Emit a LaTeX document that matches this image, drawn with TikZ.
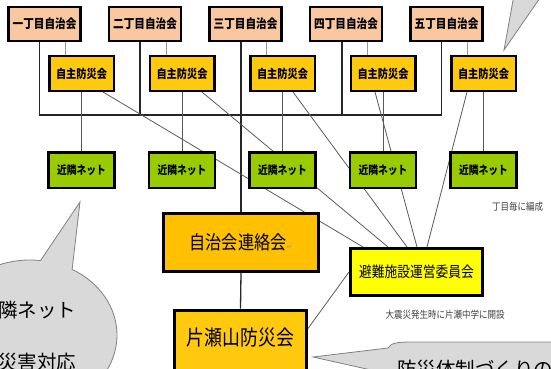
\documentclass[tikz,border=0pt]{standalone}
\usepackage{fontspec}
\setmainfont{Noto Sans CJK JP}
\newfontfamily\boxfont[FakeStretch=0.85]{Noto Sans CJK JP}
\newfontfamily\markfont{DejaVu Sans}
\usetikzlibrary{backgrounds,positioning,shapes,shapes.callouts}

\definecolor{chocolor}{HTML}{F9C8A0}
\definecolor{boucolor}{HTML}{FFC90E}
\definecolor{netcolor}{HTML}{99CC00}
\definecolor{renrakucolor}{HTML}{FFC000}
\definecolor{hinancolor}{HTML}{FFFF00}
\definecolor{bubblecolor}{HTML}{D9D9D9}
\definecolor{notecolor}{HTML}{404040}

\begin{document}
\begin{tikzpicture}[x=1pt, y=-1pt,
  box/.style={draw=black, line width=2.5pt, inner sep=1pt},
  cho/.style={box, fill=chocolor, minimum width=72pt, minimum height=34pt,
    font=\boxfont\bfseries\fontsize{12.5pt}{14pt}\selectfont},
  bou/.style={box, fill=boucolor, minimum width=64.5pt, minimum height=34.5pt,
    font=\boxfont\bfseries\fontsize{12pt}{14pt}\selectfont},
  net/.style={box, fill=netcolor, minimum width=66pt, minimum height=35.5pt,
    font=\boxfont\bfseries\fontsize{11.5pt}{14pt}\selectfont},
  renraku/.style={box, line width=3pt, fill=renrakucolor, minimum width=155pt, minimum height=58pt,
    font=\boxfont\fontsize{19pt}{22pt}\selectfont},
  bousai/.style={box, line width=3pt, fill=boucolor, minimum width=132pt, minimum height=70pt,
    text height=18pt, text depth=18pt, font=\boxfont\fontsize{21pt}{24pt}\selectfont},
  hinan/.style={box, line width=3pt, fill=hinancolor, minimum width=132pt, minimum height=47pt,
    font=\boxfont\fontsize{15pt}{18pt}\selectfont},
  note/.style={text=notecolor, inner sep=0pt, font=\boxfont\fontsize{10pt}{12pt}\selectfont},
  bubble/.style={draw=black!50, fill=bubblecolor, line width=0.8pt},
  bubbletext/.style={inner sep=0pt, font=\fontsize{19.5pt}{22pt}\selectfont},
  buslink/.style={draw=black!85, line width=1.3pt},
  thinlink/.style={draw=black!40, line width=0.8pt},
  netlink/.style={draw=black!65, line width=1pt},
  hinanlink/.style={draw=black!65, line width=0.8pt}]

  \clip (0,0) rectangle (551,369);

  % town associations, their groups and nets
  \node [cho] (cho1) at (44.5,24) {一丁目自治会};
  \node [cho] (cho2) at (145,24) {二丁目自治会};
  \node [cho] (cho3) at (245.5,24) {三丁目自治会};
  \node [cho] (cho4) at (346,24) {四丁目自治会};
  \node [cho] (cho5) at (446.5,24) {五丁目自治会};

  \node [bou] (bou1) at (81.5,73.5) {自主防災会};
  \node [bou] (bou2) at (182,73.5) {自主防災会};
  \node [bou] (bou3) at (282.5,73.5) {自主防災会};
  \node [bou] (bou4) at (383,73.5) {自主防災会};
  \node [bou] (bou5) at (483.5,73.5) {自主防災会};

  \node [net] (net1) at (81.5,170) {近隣ネット};
  \node [net] (net2) at (182,170) {近隣ネット};
  \node [net] (net3) at (282.5,170) {近隣ネット};
  \node [net] (net4) at (383,170) {近隣ネット};
  \node [net] (net5) at (483.5,170) {近隣ネット};

  \node [renraku] (renraku) at (241,242.5) {自治会連絡会{\markfont\color{black!40}\fontsize{7pt}{8pt}\selectfont ↵}};
  \node [hinan] (hinan) at (416.5,272) {避難施設運営委員会};
  \node [bousai, anchor=north] (bousai) at (240.5,308.5) {片瀬山防災会};

  \node [note, anchor=west] (henseinote) at (492,207) {丁目毎に編成};
  \node [note] (kaisetsunote) at (445,315) {大震災発生時に片瀬中学に開設};

  \coordinate (bus) at (0,115);

  \node [bubble, ellipse callout, minimum width=174pt, minimum height=150pt,
    callout absolute pointer={(80,202)}, callout pointer arc=22] (netbubble) at (30,335) {};
  \node [bubbletext, anchor=base west] (nettext1) at (-2,317.5) {隣ネット};
  \node [bubbletext, anchor=base west] (nettext2) at (-2,369.5) {災害対応};

  \draw [bubble] (313,357) -- (388,348) .. controls (391,343) and (397,342) .. (412,342)
    -- (560,342) -- (560,400) -- (380,400) -- (380,372) -- cycle;
  \node [bubbletext, anchor=base west] (taiseitext) at (397,376) {防災体制づくりの};

  \draw [bubble] (514,-5) -- (504,50) -- (542,-5);

  \begin{pgfonlayer}{background}
    \path [thinlink] ([xshift=-16pt]bou1.north) -- ([xshift=-16pt]bou1.north |- cho1.south);
    \path [thinlink] ([xshift=-16pt]bou2.north) -- ([xshift=-16pt]bou2.north |- cho2.south);
    \path [thinlink] ([xshift=-16pt]bou3.north) -- ([xshift=-16pt]bou3.north |- cho3.south);
    \path [thinlink] ([xshift=-16pt]bou4.north) -- ([xshift=-16pt]bou4.north |- cho4.south);
    \path [thinlink] ([xshift=-16pt]bou5.north) -- ([xshift=-16pt]bou5.north |- cho5.south);
    \path [buslink] ([xshift=-5pt]cho1.south) |- ([xshift=-5pt]cho5.south |- bus) -- ([xshift=-5pt]cho5.south);
    \path [buslink] ([xshift=-5pt]cho2.south) -- ([xshift=-5pt]cho2.south |- bus);
    \path [buslink] ([xshift=-4pt]cho4.south) -- ([xshift=-4pt]cho4.south |- bus);
    \path [buslink] (renraku.north |- cho3.south) -- (renraku.north);
    \path [buslink] (renraku.south) -- (bousai.north);
    \path [netlink] (bou1) -- (net1);
    \path [netlink] (bou2) -- (net2);
    \path [netlink] (bou3) -- (net3);
    \path [netlink] (bou4) -- (net4);
    \path [netlink] (bou5) -- (net5);
    \path [hinanlink] ([xshift=21.5pt]bou1.south) -- ([xshift=-53.5pt]hinan.north);
    \path [hinanlink] ([xshift=20pt]bou2.south) -- ([xshift=-28.5pt]hinan.north);
    \path [hinanlink] ([xshift=10.5pt]bou3.south) -- ([xshift=-9.5pt]hinan.north);
    \path [hinanlink] ([xshift=-8pt]bou4.south) -- ([xshift=0.5pt]hinan.north);
    \path [hinanlink] ([xshift=-16.5pt]bou5.south) -- ([xshift=10.5pt]hinan.north);
    \path [hinanlink] (hinan.west) -- ([yshift=-20pt]bousai.north east);
  \end{pgfonlayer}
\end{tikzpicture}
\end{document}
